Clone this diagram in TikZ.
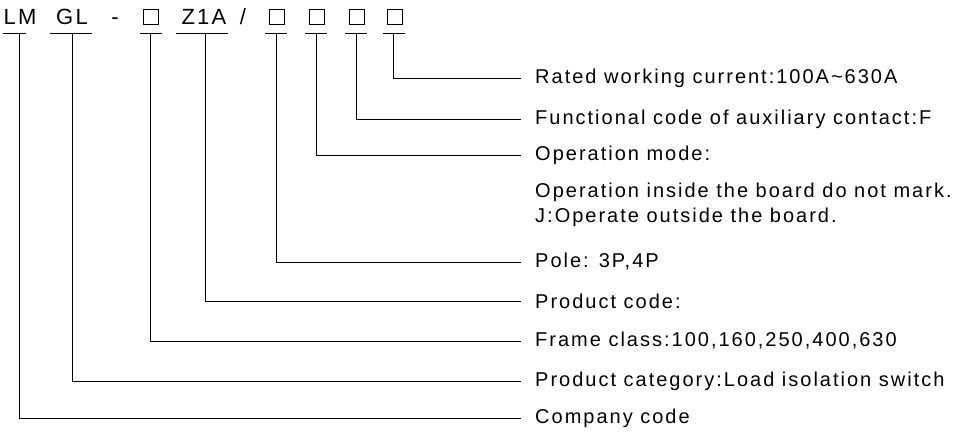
\documentclass[tikz,border=0pt]{standalone}
\usepackage{fontspec}
\setmainfont{Liberation Sans}[LetterSpace=10]
\begin{document}
\begin{tikzpicture}[x=1pt,y=-1pt,
 t/.style={anchor=west,inner sep=0,font=\fontsize{20}{22}\selectfont},
 h/.style={anchor=base,inner sep=0,font=\fontsize{22}{24}\selectfont},
 ln/.style={line width=0.9pt}]
\useasboundingbox (0,0) rectangle (967,438);
\node[h] (c1) at (20,25) {LM};
\node[h] (c2) at (72,25) {GL};
\node[h] (c3) at (115,25) {-};
\node[h] (c5) at (204,25) {Z1A};
\node[h] (c6) at (243,25) {/};
\foreach \n/\x in {b1/151,b2/277,b3/317,b4/357,b5/395}{
 \node[draw,line width=0.7pt,minimum size=15pt,inner sep=0] (\n) at (\x,17) {};}
\foreach \a/\b in {3/26,50/92,140/162,176/228,265/287,305/327,345/367,383/405}
 \draw[ln] (\a,33) -- (\b,33);
\foreach \x/\y/\txt/\n in {393/78/{Rated working current:100A\textasciitilde630A}/r1,
 356/119/{Functional code of auxiliary contact:F}/r2,
 316/155/{Operation mode:}/r3,
 276/262/{Pole: 3P,4P}/r4,
 205/301/{Product code:}/r5,
 150/341/{Frame class:100,160,250,400,630}/r6,
 72/381/{Product category:Load isolation switch}/r7,
 19/418/{Company code}/r8}{
 \node[t] (\n) at (535,\y) {\txt};
 \coordinate (s\n) at (\x,33);
 \draw[ln] (s\n) |- ([xshift=-14pt]\n.west);
}
\node[t] (o1) at (535,192) {Operation inside the board do not mark.};
\node[t] (o2) at (535,217) {J:Operate outside the board.};
\end{tikzpicture}
\end{document}
